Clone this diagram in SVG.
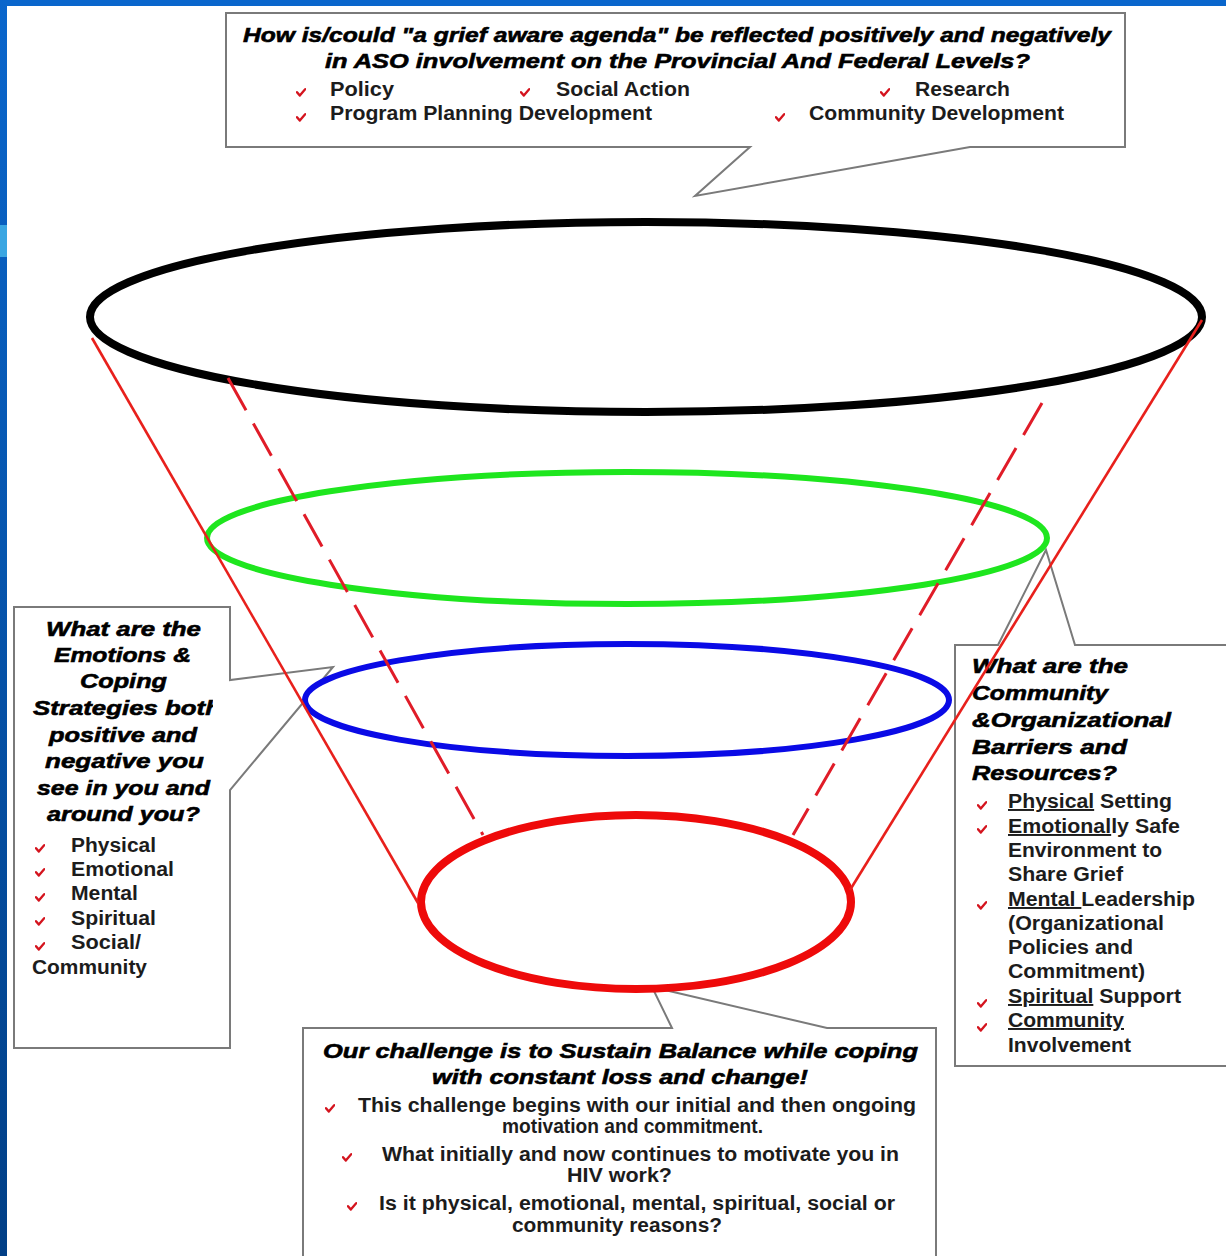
<svg xmlns="http://www.w3.org/2000/svg" xmlns:xlink="http://www.w3.org/1999/xlink" width="1226" height="1256" viewBox="0 0 1226 1256">
<defs>
<style>
.box{fill:#fff;stroke:#7a7a7a;stroke-width:2}
.hd{font-family:"Liberation Sans",Arial,sans-serif;font-weight:bold;font-style:italic;font-size:21px;fill:#000;stroke:#000;stroke-width:0.6}
.it{font-family:"Liberation Sans",Arial,sans-serif;font-weight:bold;font-size:19.5px;fill:#1c1c1c}
.ring{fill:#fff}
.solid{stroke:#e8201c;stroke-width:2.6;fill:none}
.dash{stroke:#e01c28;stroke-width:3;fill:none;stroke-dasharray:37 15}
.ul{text-decoration:underline}
</style>
<linearGradient id="side" x1="0" y1="0" x2="0" y2="1">
<stop offset="0" stop-color="#0a66cc"/>
<stop offset="1" stop-color="#013f86"/>
</linearGradient>
<symbol id="chk" viewBox="0 0 10 10">
<path d="M1,5.2 L3.8,8.6 L9.2,2.2" fill="none" stroke="#d4141e" stroke-width="2.4" stroke-linecap="round" stroke-linejoin="round"/>
</symbol>
<clipPath id="leftclip"><rect x="14" y="600" width="199" height="450"/></clipPath>
</defs>

<rect x="0" y="0" width="1226" height="1256" fill="#fff"/>
<g id="frame">
<rect x="0" y="0" width="1226" height="6" fill="#0a66cc"/>
<rect x="0" y="0" width="7" height="1256" fill="url(#side)"/>
<rect x="0" y="225" width="7" height="32" fill="#3aa6e2"/>
</g>

<g id="callout-top">
<path class="box" d="M226,13 H1125 V147 H970 L695,196 L750,147 H226 Z"/>
<text class="hd" x="243" y="42" textLength="868" lengthAdjust="spacingAndGlyphs">How is/could "a grief aware agenda" be reflected positively and negatively</text>
<text class="hd" x="325" y="68" textLength="705" lengthAdjust="spacingAndGlyphs">in ASO involvement on the Provincial And Federal Levels?</text>
<use href="#chk" x="296" y="87" width="10" height="10"/>
<use href="#chk" x="520" y="87" width="10" height="10"/>
<use href="#chk" x="880" y="87" width="10" height="10"/>
<use href="#chk" x="296" y="112" width="10" height="10"/>
<use href="#chk" x="775" y="112" width="10" height="10"/>
<text class="it" x="330" y="96" textLength="64" lengthAdjust="spacingAndGlyphs">Policy</text>
<text class="it" x="556" y="96" textLength="134" lengthAdjust="spacingAndGlyphs">Social Action</text>
<text class="it" x="915" y="96" textLength="95" lengthAdjust="spacingAndGlyphs">Research</text>
<text class="it" x="330" y="120" textLength="322" lengthAdjust="spacingAndGlyphs">Program Planning Development</text>
<text class="it" x="809" y="120" textLength="255" lengthAdjust="spacingAndGlyphs">Community Development</text>
</g>

<g id="callout-left">
<path class="box" d="M14,607 H230 V680 L333,667 L230,790 V1048 H14 Z"/>
<g clip-path="url(#leftclip)">
<text class="hd" x="46" y="636" textLength="155" lengthAdjust="spacingAndGlyphs">What are the</text>
<text class="hd" x="54" y="662" textLength="137" lengthAdjust="spacingAndGlyphs">Emotions &amp;</text>
<text class="hd" x="80" y="688" textLength="87" lengthAdjust="spacingAndGlyphs">Coping</text>
<text class="hd" x="33" y="715" textLength="188" lengthAdjust="spacingAndGlyphs">Strategies both</text>
<text class="hd" x="49" y="742" textLength="148" lengthAdjust="spacingAndGlyphs">positive and</text>
<text class="hd" x="45" y="768" textLength="159" lengthAdjust="spacingAndGlyphs">negative you</text>
<text class="hd" x="37" y="795" textLength="173" lengthAdjust="spacingAndGlyphs">see in you and</text>
<text class="hd" x="47" y="821" textLength="153" lengthAdjust="spacingAndGlyphs">around you?</text>
</g>
<use href="#chk" x="35" y="843" width="10" height="10"/>
<use href="#chk" x="35" y="867" width="10" height="10"/>
<use href="#chk" x="35" y="892" width="10" height="10"/>
<use href="#chk" x="35" y="916" width="10" height="10"/>
<use href="#chk" x="35" y="941" width="10" height="10"/>
<text class="it" x="71" y="852" textLength="85" lengthAdjust="spacingAndGlyphs">Physical</text>
<text class="it" x="71" y="876" textLength="103" lengthAdjust="spacingAndGlyphs">Emotional</text>
<text class="it" x="71" y="900" textLength="67" lengthAdjust="spacingAndGlyphs">Mental</text>
<text class="it" x="71" y="925" textLength="85" lengthAdjust="spacingAndGlyphs">Spiritual</text>
<text class="it" x="71" y="949" textLength="70" lengthAdjust="spacingAndGlyphs">Social/</text>
<text class="it" x="32" y="974" textLength="115" lengthAdjust="spacingAndGlyphs">Community</text>
</g>

<g id="callout-right">
<path class="box" d="M955,645 H998 L1046,550 L1075,645 H1240 V1066 H955 Z"/>
<text class="hd" x="972" y="673" textLength="156" lengthAdjust="spacingAndGlyphs">What are the</text>
<text class="hd" x="972" y="700" textLength="136" lengthAdjust="spacingAndGlyphs">Community</text>
<text class="hd" x="972" y="727" textLength="199" lengthAdjust="spacingAndGlyphs">&amp;Organizational</text>
<text class="hd" x="972" y="754" textLength="155" lengthAdjust="spacingAndGlyphs">Barriers and</text>
<text class="hd" x="972" y="780" textLength="145" lengthAdjust="spacingAndGlyphs">Resources?</text>
<use href="#chk" x="977" y="800" width="10" height="10"/>
<use href="#chk" x="977" y="824" width="10" height="10"/>
<use href="#chk" x="977" y="900" width="10" height="10"/>
<use href="#chk" x="977" y="998" width="10" height="10"/>
<use href="#chk" x="977" y="1022" width="10" height="10"/>
<text class="it" x="1008" y="808" textLength="164" lengthAdjust="spacingAndGlyphs"><tspan class="ul">Physical</tspan> Setting</text>
<text class="it" x="1008" y="833" textLength="172" lengthAdjust="spacingAndGlyphs"><tspan class="ul">Emotional</tspan>ly Safe</text>
<text class="it" x="1008" y="857" textLength="154" lengthAdjust="spacingAndGlyphs">Environment to</text>
<text class="it" x="1008" y="881" textLength="115" lengthAdjust="spacingAndGlyphs">Share Grief</text>
<text class="it" x="1008" y="906" textLength="187" lengthAdjust="spacingAndGlyphs"><tspan class="ul">Mental </tspan>Leadership</text>
<text class="it" x="1008" y="930" textLength="156" lengthAdjust="spacingAndGlyphs">(Organizational</text>
<text class="it" x="1008" y="954" textLength="125" lengthAdjust="spacingAndGlyphs">Policies and</text>
<text class="it" x="1008" y="978" textLength="137" lengthAdjust="spacingAndGlyphs">Commitment)</text>
<text class="it" x="1008" y="1003" textLength="173" lengthAdjust="spacingAndGlyphs"><tspan class="ul">Spiritual</tspan> Support</text>
<text class="it" x="1008" y="1027" textLength="116" lengthAdjust="spacingAndGlyphs"><tspan class="ul">Community</tspan></text>
<text class="it" x="1008" y="1052" textLength="123" lengthAdjust="spacingAndGlyphs">Involvement</text>
</g>

<g id="callout-bottom">
<path class="box" d="M303,1028 H672 L652,987 L827,1028 H936 V1270 H303 Z"/>
<text class="hd" x="323" y="1058" textLength="595" lengthAdjust="spacingAndGlyphs">Our challenge is to Sustain Balance while coping</text>
<text class="hd" x="432" y="1084" textLength="376" lengthAdjust="spacingAndGlyphs">with constant loss and change!</text>
<use href="#chk" x="325" y="1103" width="10" height="10"/>
<use href="#chk" x="342" y="1152" width="10" height="10"/>
<use href="#chk" x="347" y="1201" width="10" height="10"/>
<text class="it" x="358" y="1112" textLength="558" lengthAdjust="spacingAndGlyphs">This challenge begins with our initial and then ongoing</text>
<text class="it" x="502" y="1133" textLength="261" lengthAdjust="spacingAndGlyphs">motivation and commitment.</text>
<text class="it" x="382" y="1161" textLength="517" lengthAdjust="spacingAndGlyphs">What initially and now continues to motivate you in</text>
<text class="it" x="567" y="1182" textLength="105" lengthAdjust="spacingAndGlyphs">HIV work?</text>
<text class="it" x="379" y="1210" textLength="516" lengthAdjust="spacingAndGlyphs">Is it physical, emotional, mental, spiritual, social or</text>
<text class="it" x="512" y="1232" textLength="210" lengthAdjust="spacingAndGlyphs">community reasons?</text>
</g>

<g id="ring-black"><ellipse class="ring" cx="646" cy="317" rx="556" ry="95" stroke="#000" stroke-width="8"/></g>
<g id="ring-green"><ellipse class="ring" cx="627" cy="538" rx="420" ry="66" stroke="#1ee61e" stroke-width="6"/></g>
<g id="ring-blue"><ellipse class="ring" cx="627" cy="700" rx="322" ry="56" stroke="#0a0ae6" stroke-width="6"/></g>
<g id="ring-red"><ellipse class="ring" cx="636" cy="902" rx="215" ry="87" stroke="#ee0a0a" stroke-width="8"/></g>

<g id="connectors">
<line class="solid" x1="92" y1="338" x2="418" y2="903"/>
<line class="solid" x1="1202" y1="320" x2="850" y2="890"/>
<line class="dash" x1="228" y1="378" x2="483" y2="835"/>
<line class="dash" x1="1042" y1="403" x2="793" y2="835"/>
</g>
</svg>
